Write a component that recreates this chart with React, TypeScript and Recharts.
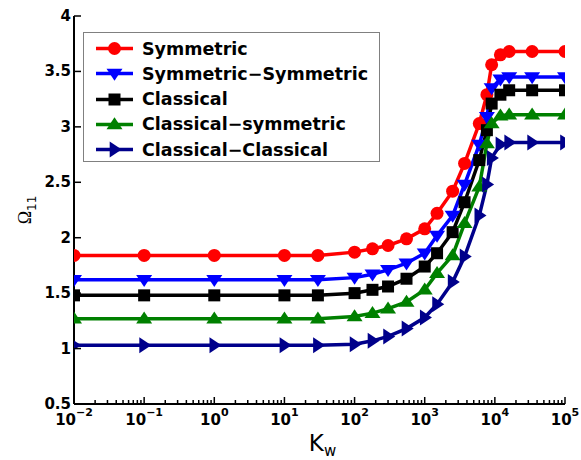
import { LineChart, Line, XAxis, YAxis } from "recharts";

// K_w values (log axis) shared by every curve
const kw = [0.01, 0.1, 1, 10, 30, 100, 180, 300, 550, 1000, 1500, 2500, 3700, 6000, 7700, 9000, 12000, 16000, 34000, 100000];

const symmetric = [1.84, 1.84, 1.84, 1.84, 1.84, 1.87, 1.9, 1.93, 1.99, 2.08, 2.22, 2.42, 2.67, 3.03, 3.29, 3.56, 3.65, 3.68, 3.68, 3.68];
const symSym = [1.62, 1.62, 1.62, 1.62, 1.62, 1.64, 1.67, 1.71, 1.77, 1.86, 2.02, 2.2, 2.48, 2.84, 3.09, 3.35, 3.43, 3.45, 3.45, 3.45];
const classical = [1.48, 1.48, 1.48, 1.48, 1.48, 1.5, 1.53, 1.56, 1.63, 1.74, 1.86, 2.05, 2.32, 2.7, 2.97, 3.21, 3.29, 3.33, 3.33, 3.33];
const classSym = [1.27, 1.27, 1.27, 1.27, 1.27, 1.29, 1.32, 1.36, 1.42, 1.53, 1.68, 1.84, 2.13, 2.46, 2.85, 3.03, 3.1, 3.11, 3.11, 3.11];
const classClass = [1.03, 1.03, 1.03, 1.03, 1.03, 1.04, 1.07, 1.11, 1.18, 1.28, 1.4, 1.6, 1.83, 2.2, 2.48, 2.72, 2.84, 2.86, 2.86, 2.86];

const xMajor = [0.01, 0.1, 1, 10, 100, 1000, 10000, 100000];
const xExponents = ["\u22122", "\u22121", "0", "1", "2", "3", "4", "5"];
const yTicks = [0.5, 1, 1.5, 2, 2.5, 3, 3.5, 4];

const xMinor: number[] = [];
for (let i = 0; i < xMajor.length - 1; i++) {
  for (let m = 2; m <= 9; m++) xMinor.push(xMajor[i] * m);
}

const series = [
  { key: "sym", name: "Symmetric", color: "#ff0000", shape: "circle", values: symmetric },
  { key: "symsym", name: "Symmetric\u2212Symmetric", color: "#0000ff", shape: "down", values: symSym },
  { key: "cla", name: "Classical", color: "#000000", shape: "square", values: classical },
  { key: "clasym", name: "Classical\u2212symmetric", color: "#008000", shape: "up", values: classSym },
  { key: "clacla", name: "Classical\u2212Classical", color: "#00008b", shape: "right", values: classClass },
];

const data = kw.map((k, i) => {
  const row: Record<string, number> = { k };
  series.forEach((s) => (row[s.key] = s.values[i]));
  return row;
});

const TICK_FONT = "'DejaVu Sans', sans-serif";

function Marker({ cx, cy, shape, color }: { cx: number; cy: number; shape: string; color: string }) {
  if (shape === "circle") return <circle cx={cx} cy={cy} r={6.5} fill={color} />;
  if (shape === "square") return <rect x={cx - 6} y={cy - 6} width={12} height={12} fill={color} />;
  const s = 8;
  let pts = "";
  if (shape === "down") pts = `${cx - s},${cy - s * 0.6} ${cx + s},${cy - s * 0.6} ${cx},${cy + s * 0.9}`;
  if (shape === "up") pts = `${cx - s},${cy + s * 0.6} ${cx + s},${cy + s * 0.6} ${cx},${cy - s * 0.9}`;
  if (shape === "right") pts = `${cx - s * 0.6},${cy - s} ${cx - s * 0.6},${cy + s} ${cx + s * 0.9},${cy}`;
  return <polygon points={pts} fill={color} />;
}

const isMajor = (v: number) => Math.abs(Math.log10(v) - Math.round(Math.log10(v))) < 1e-6;

const BottomTick = (props: any) => {
  const { x, y, payload } = props;
  const v = payload.value;
  const major = isMajor(v);
  const idx = xMajor.findIndex((m) => Math.abs(m - v) / m < 1e-6);
  return (
    <g>
      <line x1={x} x2={x} y1={y} y2={y - (major ? 7 : 4)} stroke="#000" strokeWidth={1.5} />
      {major && (
        <text x={x} y={y + 21} textAnchor="middle" fontFamily={TICK_FONT} fontWeight="bold" fontSize={15} fill="#000">
          10
          <tspan dy={-9} fontSize={11}>{xExponents[idx]}</tspan>
        </text>
      )}
    </g>
  );
};

const TopTick = (props: any) => {
  const { x, y, payload } = props;
  const major = isMajor(payload.value);
  return <line x1={x} x2={x} y1={y} y2={y + (major ? 7 : 4)} stroke="#000" strokeWidth={1.5} />;
};

const LeftTick = (props: any) => {
  const { x, y, payload } = props;
  return (
    <g>
      <line x1={x} x2={x + 7} y1={y} y2={y} stroke="#000" strokeWidth={1.5} />
      <text x={x - 3} y={y + 5} textAnchor="end" fontFamily={TICK_FONT} fontWeight="bold" fontSize={15} fill="#000">
        {payload.value}
      </text>
    </g>
  );
};

const RightTick = (props: any) => {
  const { x, y } = props;
  return <line x1={x} x2={x - 7} y1={y} y2={y} stroke="#000" strokeWidth={1.5} />;
};

const YLabel = (props: any) => {
  const { viewBox } = props;
  const cx = viewBox.x + 17;
  const cy = viewBox.y + viewBox.height / 2;
  return (
    <text transform={`translate(${cx},${cy}) rotate(-90)`} textAnchor="middle" fill="#000">
      <tspan fontFamily="'Liberation Serif', serif" fontSize={18}>Ω</tspan>
      <tspan fontFamily={TICK_FONT} fontSize={12} dy={5}>11</tspan>
    </text>
  );
};

const XLabel = (props: any) => {
  const { viewBox } = props;
  const cx = viewBox.x + viewBox.width / 2 + 3;
  return (
    <text x={cx} y={viewBox.y + 47} textAnchor="middle" fill="#000" fontFamily={TICK_FONT}>
      <tspan fontSize={23}>K</tspan>
      <tspan fontSize={15} dy={5}>w</tspan>
    </text>
  );
};

function LegendBox() {
  return (
    <div
      style={{
        position: "absolute",
        left: 83,
        top: 32,
        width: 295,
        height: 128,
        border: "1px solid #808080",
        background: "#fff",
      }}
    >
      {series.map((s, i) => (
        <div
          key={s.key}
          style={{ position: "absolute", left: 0, top: 3 + i * 25.3, height: 25, display: "flex", alignItems: "center" }}
        >
          <svg width={58} height={25}>
            <line x1={12} x2={49} y1={12.5} y2={12.5} stroke={s.color} strokeWidth={3.5} />
            <Marker cx={30.5} cy={12.5} shape={s.shape} color={s.color} />
          </svg>
          <span style={{ fontFamily: TICK_FONT, fontWeight: "bold", fontSize: 17.5, color: "#000", whiteSpace: "nowrap" }}>
            {s.name}
          </span>
        </div>
      ))}
    </div>
  );
}

export default function App() {
  return (
    <div style={{ position: "absolute", left: 0, top: 0, width: 581, height: 460, background: "#fff" }}>
      <LineChart width={581} height={460} data={data} margin={{ top: 16, right: 16, bottom: 6, left: 14 }}>
        <XAxis
          dataKey="k"
          type="number"
          scale="log"
          domain={[0.01, 100000]}
          allowDataOverflow
          ticks={[...xMajor, ...xMinor]}
          interval={0}
          tickSize={0}
          tickMargin={0}
          tick={BottomTick}
          axisLine={{ stroke: "#000", strokeWidth: 2 }}
          height={50}
          label={<XLabel />}
        />
        <XAxis
          xAxisId="top"
          orientation="top"
          dataKey="k"
          type="number"
          scale="log"
          domain={[0.01, 100000]}
          allowDataOverflow
          ticks={[...xMajor, ...xMinor]}
          interval={0}
          tickSize={0}
          tickMargin={0}
          tick={TopTick}
          axisLine={{ stroke: "#000", strokeWidth: 2 }}
          height={0}
        />
        <YAxis
          type="number"
          domain={[0.5, 4]}
          ticks={yTicks}
          interval={0}
          tickSize={0}
          tickMargin={0}
          tick={LeftTick}
          axisLine={{ stroke: "#000", strokeWidth: 2 }}
          width={60}
          label={<YLabel />}
        />
        <YAxis
          yAxisId="right"
          orientation="right"
          type="number"
          domain={[0.5, 4]}
          ticks={yTicks}
          interval={0}
          tickSize={0}
          tickMargin={0}
          tick={RightTick}
          axisLine={{ stroke: "#000", strokeWidth: 2 }}
          width={0}
        />
        {series.map((s) => (
          <Line
            key={s.key}
            dataKey={s.key}
            stroke={s.color}
            strokeWidth={3.5}
            isAnimationActive={false}
            dot={(p: any) => <Marker key={`${s.key}-${p.index}`} cx={p.cx} cy={p.cy} shape={s.shape} color={s.color} />}
            activeDot={false}
          />
        ))}
      </LineChart>
      <LegendBox />
    </div>
  );
}
